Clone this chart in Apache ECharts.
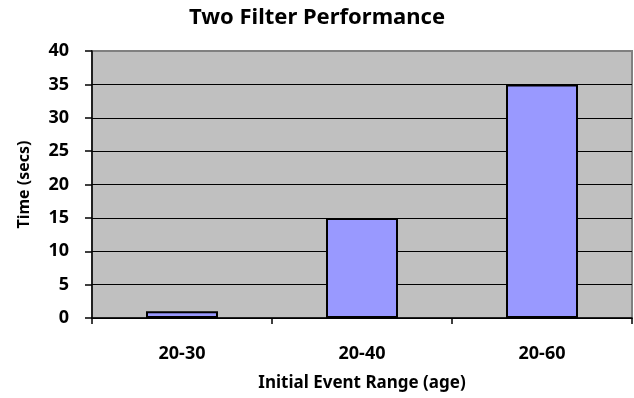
<!DOCTYPE html>
<html>
<head>
<meta charset="utf-8">
<script src="https://cdn.jsdelivr.net/npm/echarts@6/dist/echarts.min.js"></script>
<style>html,body{margin:0;padding:0;background:#fff}#c{width:634px;height:398px}</style>
</head>
<body>
<div id="c"></div>
<script>
const categories = ['20-30', '20-40', '20-60'];
const timeSecs = [1, 15, 35];
const yTicks = [0, 5, 10, 15, 20, 25, 30, 35, 40];

const FONT = 'Noto Sans';
const chart = echarts.init(document.getElementById('c'), null, {renderer: 'canvas'});
chart.setOption({
  animation: false,
  backgroundColor: '#fff',
  title: {
    text: 'Two Filter Performance',
    left: 'center',
    top: 2,
    textStyle: {fontFamily: FONT, fontWeight: 'bold', fontSize: 22, color: '#000'}
  },
  grid: {
    left: 92, right: 2, top: 51, bottom: 80,
    show: true, backgroundColor: '#C0C0C0', borderColor: '#808080', borderWidth: 2
  },
  xAxis: {
    type: 'category',
    data: categories,
    name: 'Initial Event Range (age)',
    nameLocation: 'middle',
    nameGap: 57,
    nameTextStyle: {fontFamily: FONT, fontWeight: 'bold', fontSize: 17, color: '#000'},
    axisLine: {lineStyle: {color: '#000', width: 1.5}},
    axisTick: {show: true, length: 6, lineStyle: {color: '#000', width: 1.5}},
    axisLabel: {fontFamily: FONT, fontWeight: 'bold', fontSize: 18, color: '#000', margin: 27}
  },
  yAxis: {
    type: 'value',
    min: yTicks[0],
    max: yTicks[yTicks.length - 1],
    interval: 5,
    name: 'Time (secs)',
    nameLocation: 'middle',
    nameGap: 60,
    nameTextStyle: {fontFamily: FONT, fontWeight: 'bold', fontSize: 16, color: '#000'},
    axisLine: {show: true, lineStyle: {color: '#000', width: 1.5}},
    axisTick: {show: true, length: 7, lineStyle: {color: '#000', width: 1.5}},
    axisLabel: {fontFamily: FONT, fontWeight: 'bold', fontSize: 18, color: '#000', margin: 23},
    splitLine: {show: true, lineStyle: {color: ['#000','#000','#000','#000','#000','#000','#000','#000','#808080'], width: 1}}
  },
  series: [{
    type: 'bar',
    data: timeSecs,
    barWidth: '40%',
    itemStyle: {color: '#9999FF', borderColor: '#000', borderWidth: 2}
  }]
});
</script>
</body>
</html>
